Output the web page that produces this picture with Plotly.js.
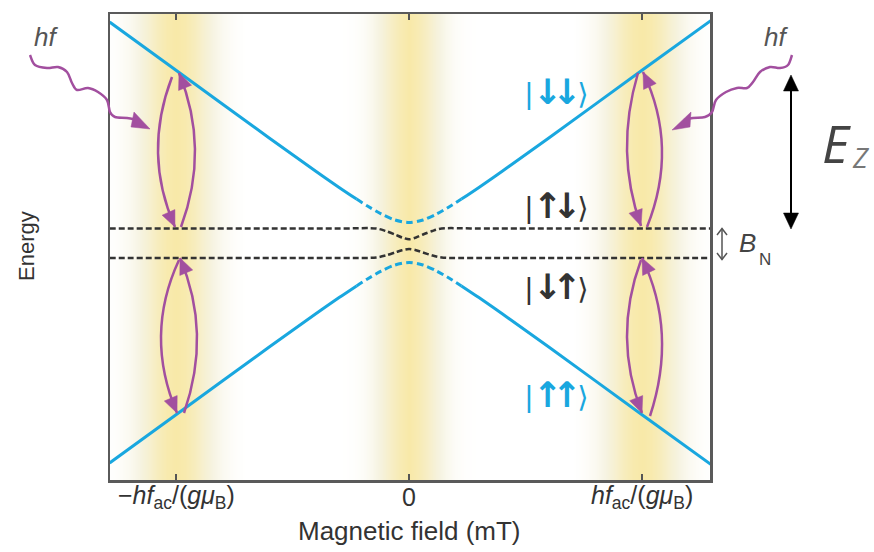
<!DOCTYPE html>
<html>
<head>
<meta charset="utf-8">
<script src="https://cdn.plot.ly/plotly-3.0.1.min.js"></script>
<style>html,body{margin:0;padding:0;background:#fff;}#chart{width:874px;height:552px;}</style>
</head>
<body>
<div id="chart"></div>
<script>
// ---------------- data ----------------
// magnetic field in units of hf_ac/(g muB); energy in arbitrary units
const fieldLeft  = [-1.285, -1.0, -0.6, -0.4, -0.3, -0.225];
const fieldMid   = [-0.225, -0.18, -0.12, -0.06, 0, 0.06, 0.12, 0.18, 0.225];
const fieldRight = [0.225, 0.3, 0.4, 0.6, 1.0, 1.295];
const upDownLeft  = [2.205, 1.722, 1.045, 0.713, 0.551, 0.434];   // |↓↓> branch
const upDownMid   = [0.434, 0.367, 0.287, 0.225, 0.2, 0.225, 0.287, 0.367, 0.434];
const upDownRight = [0.434, 0.551, 0.713, 1.045, 1.722, 2.218];
const lowLeft  = [-2.205, -1.722, -1.045, -0.713, -0.551, -0.434]; // |↑↑> branch
const lowMid   = [-0.434, -0.367, -0.287, -0.225, -0.2, -0.225, -0.287, -0.367, -0.434];
const lowRight = [-0.434, -0.551, -0.713, -1.045, -1.722, -2.218];

const fieldNuc = [-1.285, -0.3, -0.14, -0.1, -0.06, -0.03, 0, 0.03, 0.06, 0.1, 0.14, 0.3, 1.295];
const nucUpper = [0.14, 0.14, 0.14, 0.115, 0.08, 0.05, 0.032, 0.05, 0.08, 0.115, 0.14, 0.14, 0.14];
const nucLower = [-0.155, -0.155, -0.15, -0.13, -0.1, -0.077, -0.065, -0.077, -0.1, -0.13, -0.15, -0.155, -0.155];

// yellow resonance bands: centres and glow profile
const bandCentres = [-1, 0, 1];
const bandOffsets = [0, 0.04, 0.08, 0.12, 0.16, 0.2, 0.25, 0.3];
const bandSideGlow = [1, 0.92, 0.72, 0.48, 0.28, 0.14, 0.05, 0];
const bandMidGlow  = [1, 0.85, 0.6, 0.35, 0.18, 0.07, 0.02, 0];
const edgeGlow = 0.08;

const tickVals = [-1, 0, 1];
const tickText = ['−<i>hf</i><sub>ac</sub>/(<i>gμ</i><sub>B</sub>)', '0', '<i>hf</i><sub>ac</sub>/(<i>gμ</i><sub>B</sub>)'];
const ketArrows = ['↓↓', '↑↓', '↓↑', '↑↑'];

// ---------------- build ----------------
const W = 874, H = 552;
const BLUE = '#19a7df', PURPLE = '#a24f9f', DARK = '#333333';

// heatmap glow
const hx = [-1.6], hz = [edgeGlow];
bandCentres.forEach((c) => {
  const prof = c === 0 ? bandMidGlow : bandSideGlow;
  for (let i = bandOffsets.length - 1; i > 0; i--) { hx.push(c - bandOffsets[i]); hz.push(prof[i]); }
  for (let i = 0; i < bandOffsets.length; i++) { hx.push(c + bandOffsets[i]); hz.push(prof[i]); }
});
hx.push(1.6); hz.push(edgeGlow);

const traces = [
  {type: 'heatmap', x: hx, y: [-3, 3], z: [hz, hz], zsmooth: 'best', showscale: false, hoverinfo: 'skip',
   zmin: 0, zmax: 1,
   colorscale: [[0, '#ffffff'], [0.3, '#f6f3e1'], [0.7, '#f7edc0'], [1, '#f8e9a8']]},
];
function line(x, y, color, dash, width) {
  return {type: 'scatter', mode: 'lines', x: x, y: y, hoverinfo: 'skip',
          line: {color: color, width: width, dash: dash, shape: 'spline', smoothing: 0.8}};
}
traces.push(line(fieldLeft, upDownLeft, BLUE, 'solid', 3));
traces.push(line(fieldMid, upDownMid, BLUE, '7px,4px', 3));
traces.push(line(fieldRight, upDownRight, BLUE, 'solid', 3));
traces.push(line(fieldLeft, lowLeft, BLUE, 'solid', 3));
traces.push(line(fieldMid, lowMid, BLUE, '7px,4px', 3));
traces.push(line(fieldRight, lowRight, BLUE, 'solid', 3));
traces.push(line(fieldNuc, nucUpper, DARK, '6px,3px', 2.5));
traces.push(line(fieldNuc, nucLower, DARK, '6px,3px', 2.5));

// ---------------- decorations (pixel helpers) ----------------
const P = (x, y) => (x / W).toFixed(5) + ',' + (1 - y / H).toFixed(5);
const shapes = [];
function tri(a, b, c, color) {
  shapes.push({type: 'path', xref: 'paper', yref: 'paper', layer: 'above',
    path: 'M' + P(a[0], a[1]) + ' L' + P(b[0], b[1]) + ' L' + P(c[0], c[1]) + ' Z',
    fillcolor: color, line: {color: color, width: 0.5}});
}
function head(tip, from, L, hw, color) {
  let dx = tip[0] - from[0], dy = tip[1] - from[1];
  const n = Math.hypot(dx, dy); dx /= n; dy /= n;
  const bx = tip[0] - L * dx, by = tip[1] - L * dy;
  tri(tip, [bx - hw * dy, by + hw * dx], [bx + hw * dy, by - hw * dx], color);
}
function arc(p0, bulge, p3) {
  const h = p3[1] - p0[1];
  const cx = (bulge - 0.125 * (p0[0] + p3[0])) / 0.75;
  const p1 = [cx, p0[1] + h / 3], p2 = [cx, p0[1] + 2 * h / 3];
  shapes.push({type: 'path', xref: 'paper', yref: 'paper', layer: 'above',
    path: 'M' + P(p0[0], p0[1]) + ' C' + P(p1[0], p1[1]) + ' ' + P(p2[0], p2[1]) + ' ' + P(p3[0], p3[1]),
    line: {color: PURPLE, width: 2.5}});
  head(p3, p2, 16, 7, PURPLE);
}
function wavy(pts, color, width) {
  let d = 'M' + P(pts[0][0], pts[0][1]);
  for (let i = 0; i < pts.length - 1; i++) {
    const p0 = pts[Math.max(0, i - 1)], p1 = pts[i], p2 = pts[i + 1], p3 = pts[Math.min(pts.length - 1, i + 2)];
    const c1 = [p1[0] + (p2[0] - p0[0]) / 6, p1[1] + (p2[1] - p0[1]) / 6];
    const c2 = [p2[0] - (p3[0] - p1[0]) / 6, p2[1] - (p3[1] - p1[1]) / 6];
    d += ' C' + P(c1[0], c1[1]) + ' ' + P(c2[0], c2[1]) + ' ' + P(p2[0], p2[1]);
  }
  shapes.push({type: 'path', xref: 'paper', yref: 'paper', layer: 'above', path: d, line: {color: color, width: width}});
}
function seg(a, b, color, width) {
  shapes.push({type: 'line', xref: 'paper', yref: 'paper', layer: 'above',
    x0: a[0] / W, y0: 1 - a[1] / H, x1: b[0] / W, y1: 1 - b[1] / H, line: {color: color, width: width}});
}

// transition arcs (left band)
arc([172, 77], 158, [175, 227]);
arc([181, 227], 195, [179, 73]);
arc([179, 260], 161, [177, 413]);
arc([184, 413], 197, [180, 258]);
// right band
arc([638, 73], 627, [641, 226]);
arc([647, 227], 662, [643, 72]);
arc([641, 260], 627, [642, 413]);
arc([650, 416], 662, [642, 258]);

// photons
wavy([[30,55],[35,65],[47,68],[58,67],[67,72],[72,83],[77,90],[88,88],[98,92],[107,100],[110,112],[115,117],[127,118],[137,120]], PURPLE, 2.5);
tri([150,129], [134,112], [131,127], PURPLE);
wavy([[792,55],[788,65],[780,68],[770,67],[760,72],[753,82],[747,88],[737,88],[726,92],[716,100],[712,112],[705,117],[693,118],[684,120]], PURPLE, 2.5);
tri([672,130], [691,112], [690,127], PURPLE);

// E_Z double arrow
seg([791, 88], [791, 215], '#000', 2);
tri([791, 75], [783.5, 91], [798.5, 91], '#000');
tri([791, 229], [783.5, 213], [798.5, 213], '#000');
// B_N small arrow
seg([722, 228.5], [722, 259.5], '#555', 1.5);
shapes.push({type: 'path', xref: 'paper', yref: 'paper', layer: 'above',
  path: 'M' + P(717, 235) + ' L' + P(722, 228.5) + ' L' + P(727, 235), line: {color: '#555', width: 1.5}});
shapes.push({type: 'path', xref: 'paper', yref: 'paper', layer: 'above',
  path: 'M' + P(717, 253) + ' L' + P(722, 259.5) + ' L' + P(727, 253), line: {color: '#555', width: 1.5}});

// ---------------- annotations ----------------
const SANS = 'Liberation Sans, Arial, sans-serif';
function ann(text, x, y, size, color, extra) {
  return Object.assign({text: text, x: x / W, y: 1 - y / H, xref: 'paper', yref: 'paper', showarrow: false,
    xanchor: 'center', yanchor: 'middle', font: {family: SANS, size: size, color: color}}, extra || {});
}
const ketY = [92, 206, 287, 395];
const ketColors = [BLUE, DARK, DARK, BLUE];
const annotations = ketArrows.map((a, i) => ann(
  '<span style="font-size:30px;font-family:Liberation Sans">|</span>' +
  '<span style="font-family:DejaVu Sans;font-weight:bold;letter-spacing:-10px">' + a + '</span>' +
  '<span style="font-size:29px;font-family:DejaVu Sans">&#8201;⟩</span>',
  557, ketY[i], 35, ketColors[i], {font: {family: SANS, size: 35, color: ketColors[i]}}));
annotations.push(ann('<i>hf</i>', 46, 37, 26, '#555'));
annotations.push(ann('<i>hf</i>', 776, 37, 26, '#555'));
annotations.push(ann('<i>E</i>', 836, 142, 52, '#444', {font: {family: 'Open Sans, sans-serif', size: 52, color: '#444'}}));
annotations.push(ann('<i>Z</i>', 861, 157, 28, '#777', {font: {family: 'Open Sans, sans-serif', size: 28, color: '#777'}}));
annotations.push(ann('<i>B</i>', 747, 243, 26, '#444'));
annotations.push(ann('N', 765, 259, 17, '#444'));
annotations.push(ann('Energy', 26, 246, 22, DARK, {textangle: -90}));
annotations.push(ann('Magnetic field (mT)', 409, 531, 26, DARK));
tickVals.forEach((v, i) => {
  annotations.push({text: tickText[i], x: v, xref: 'x', y: 1 - 497 / H, yref: 'paper', showarrow: false,
    xanchor: 'center', yanchor: 'middle', font: {family: SANS, size: 25, color: DARK}});
});

const layout = {
  width: W, height: H, margin: {l: 0, r: 0, t: 0, b: 0},
  paper_bgcolor: '#ffffff', plot_bgcolor: '#ffffff', showlegend: false,
  xaxis: {domain: [110 / W, 710 / W], range: [-1.2833, 1.2918], showgrid: false, zeroline: false,
    showline: true, linecolor: '#5a5a5a', linewidth: 2.5, mirror: 'ticks',
    ticks: 'inside', ticklen: 6, tickwidth: 2, tickcolor: '#555',
    tickvals: tickVals, showticklabels: false},
  yaxis: {domain: [1 - 480 / H, 1 - 14 / H], range: [-2.375, 2.285], showgrid: false, zeroline: false,
    showline: true, linecolor: '#5a5a5a', linewidth: 2.5, mirror: true, ticks: '', showticklabels: false},
  shapes: shapes, annotations: annotations
};
Plotly.newPlot('chart', traces, layout, {displayModeBar: false, staticPlot: true});
</script>
</body>
</html>
